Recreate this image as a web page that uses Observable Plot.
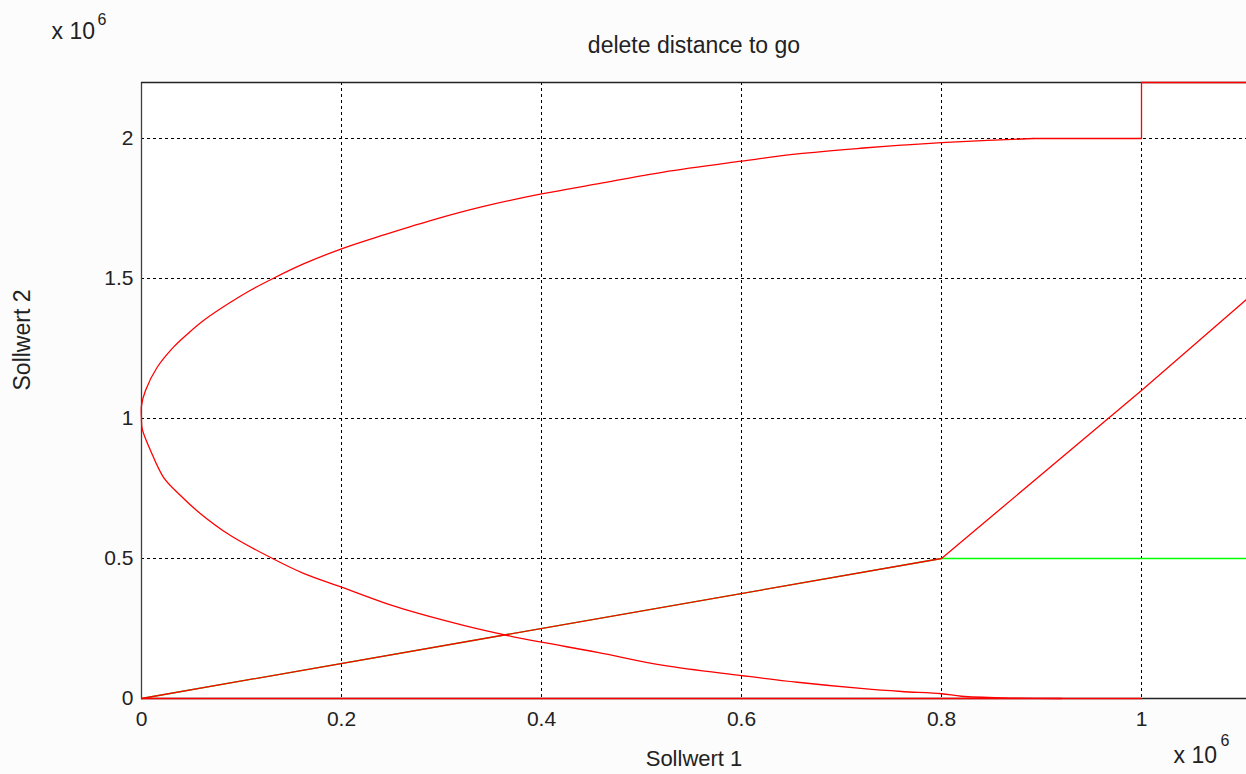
<!DOCTYPE html>
<html><head><meta charset="utf-8">
<script src="https://cdn.jsdelivr.net/npm/d3@7"></script>
<script src="https://cdn.jsdelivr.net/npm/@observablehq/plot@0.6"></script>
<style>
body{margin:0;background:#fcfcfc;}
#chart svg{display:block;}
</style>
</head><body><div id="chart"></div>
<script>
// values in units of 10^6
const titleText = "delete distance to go";
const xLabel = "Sollwert 1";
const yLabel = "Sollwert 2";
const xTicks = [0, 0.2, 0.4, 0.6, 0.8, 1];
const xTickLabels = ["0", "0.2", "0.4", "0.6", "0.8", "1"];
const yTicks = [0, 0.5, 1, 1.5, 2];
const yTickLabels = ["0", "0.5", "1", "1.5", "2"];

// upper branch (smooth part)
const upperX = [0, 0, 0.004, 0.0157, 0.032, 0.046, 0.062, 0.089, 0.109, 0.132, 0.162, 0.2, 0.239, 0.289, 0.339, 0.4, 0.456, 0.522, 0.6, 0.656, 0.722, 0.76, 0.8, 0.846, 0.892];
const upperY = [1.0, 1.046, 1.1, 1.183, 1.255, 1.302, 1.35, 1.415, 1.458, 1.501, 1.552, 1.606, 1.652, 1.707, 1.755, 1.802, 1.838, 1.88, 1.919, 1.945, 1.966, 1.976, 1.985, 1.993, 2.0];
// upper branch (step at the end)
const upperTailX = [0.892, 1.0, 1.0, 1.105];
const upperTailY = [2.0, 2.0, 2.2, 2.2];

// lower branch
const lowerX = [0, 0.0007, 0.009, 0.022, 0.039, 0.059, 0.089, 0.131, 0.162, 0.2, 0.256, 0.322, 0.366, 0.4, 0.456, 0.522, 0.6, 0.656, 0.722, 0.76, 0.8, 0.82, 0.862, 0.92];
const lowerY = [1.0, 0.963, 0.886, 0.79, 0.725, 0.66, 0.582, 0.5, 0.447, 0.398, 0.326, 0.261, 0.225, 0.201, 0.165, 0.118, 0.082, 0.058, 0.035, 0.025, 0.017, 0.008, 0.002, 0.0];

const zeroX = [0, 1.0];
const zeroY = [0, 0];

const diagX = [0, 0.8, 1.0, 1.105];
const diagY = [0, 0.5, 1.1, 1.425];

const greenX = [0, 0.8, 1.105];
const greenY = [0, 0.5, 0.5];

const toRows = (xs, ys) => xs.map((x, i) => ({x, y: ys[i]}));
const upper = toRows(upperX, upperY);
const upperTail = toRows(upperTailX, upperTailY);
const lower = toRows(lowerX, lowerY);
const zero = toRows(zeroX, zeroY);
const diag = toRows(diagX, diagY);
const green = toRows(greenX, greenY);

const red = "#ff0000";
const lw = 1.3;
const font = "'Liberation Sans', Arial, sans-serif";

const chart = Plot.plot({
  width: 1246,
  height: 774,
  marginLeft: 141,
  marginRight: 0,
  marginTop: 82,
  marginBottom: 76,
  style: {fontFamily: font, background: "transparent", color: "#222"},
  x: {domain: [0, 1.105]},
  y: {domain: [0, 2.2]},
  marks: [
    Plot.frame({fill: "white", stroke: "none"}),
    Plot.gridX(xTicks.slice(1), {stroke: "black", strokeOpacity: 1, strokeDasharray: "3,3", strokeWidth: 1}),
    Plot.gridY(yTicks.slice(1), {stroke: "black", strokeOpacity: 1, strokeDasharray: "3,3", strokeWidth: 1}),
    Plot.ruleX([0], {stroke: "#404040", strokeWidth: 1.3}),
    Plot.ruleY([0, 2.2], {stroke: "#222", strokeWidth: 1.3}),
    Plot.line(green, {x: "x", y: "y", stroke: "#00ff00", strokeWidth: lw}),
    Plot.line(diag, {x: "x", y: "y", stroke: red, strokeWidth: lw}),
    Plot.line(zero, {x: "x", y: "y", stroke: red, strokeWidth: lw}),
    Plot.line(upper, {x: "x", y: "y", stroke: red, strokeWidth: lw, curve: "catmull-rom"}),
    Plot.line(upperTail, {x: "x", y: "y", stroke: red, strokeWidth: lw}),
    Plot.line(lower, {x: "x", y: "y", stroke: red, strokeWidth: lw, curve: "catmull-rom"}),
    Plot.axisX({ticks: xTicks, tickFormat: (d, i) => xTickLabels[i], tickSize: 0, tickPadding: 13, fontSize: 21, label: null}),
    Plot.axisY({ticks: yTicks, tickFormat: (d, i) => yTickLabels[i], tickSize: 0, tickPadding: 8, fontSize: 21, label: null}),
    Plot.text([titleText], {frameAnchor: "top", lineAnchor: "middle", dy: -37, fontSize: 23}),
    Plot.text([xLabel], {frameAnchor: "bottom", lineAnchor: "middle", dy: 60, fontSize: 22}),
    Plot.text([yLabel], {frameAnchor: "left", lineAnchor: "middle", dx: -119, rotate: -90, fontSize: 23}),
    Plot.text(["x 10"], {frameAnchor: "top-left", lineAnchor: "middle", textAnchor: "start", dx: -90, dy: -51, fontSize: 23}),
    Plot.text(["6"], {frameAnchor: "top-left", lineAnchor: "middle", textAnchor: "start", dx: -44, dy: -63, fontSize: 16}),
    Plot.text(["x 10"], {frameAnchor: "bottom-right", lineAnchor: "middle", textAnchor: "start", dx: -73, dy: 57, fontSize: 23}),
    Plot.text(["6"], {frameAnchor: "bottom-right", lineAnchor: "middle", textAnchor: "start", dx: -26, dy: 42, fontSize: 16})
  ]
});
document.getElementById("chart").appendChild(chart);
</script>
</body></html>
